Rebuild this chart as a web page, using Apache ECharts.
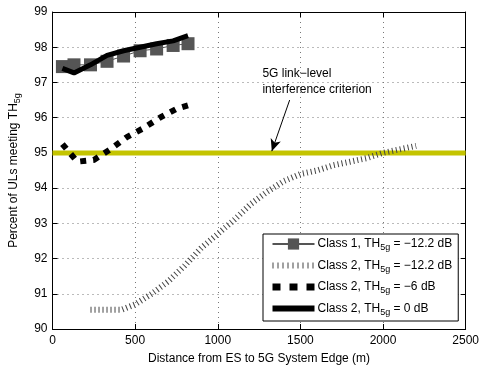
<!DOCTYPE html>
<html>
<head>
<meta charset="utf-8">
<script src="https://cdn.jsdelivr.net/npm/echarts@6/dist/echarts.min.js"></script>
<style>
  html, body { margin: 0; padding: 0; background: #fff; }
  #chart { width: 482px; height: 370px; }
</style>
</head>
<body>
<div id="chart"></div>
<script>
// Class 1, TH5g = -12.2 dB (gray squares)
const class1X = [60, 130, 230, 330, 430, 530, 630, 730, 820]
const class1Y = [97.45, 97.5, 97.5, 97.6, 97.75, 97.9, 97.95, 98.05, 98.1]
// Class 2, TH5g = 0 dB (thick solid black)
const c2zeroX = [60, 130, 230, 330, 430, 530, 630, 730, 820]
const c2zeroY = [97.4, 97.27, 97.5, 97.77, 97.9, 98.0, 98.1, 98.18, 98.33]
// Class 2, TH5g = -6 dB (thick dashed black)
const c2sixX = [60, 150, 250, 350, 450, 550, 650, 750, 820]
const c2sixY = [95.25, 94.75, 94.8, 95.1, 95.45, 95.7, 96.0, 96.25, 96.35]
// Class 2, TH5g = -12.2 dB (tick-dotted gray)
const c2twelveX = [230, 420, 500, 600, 700, 800, 900, 1000, 1100, 1200, 1300, 1400, 1500, 1600, 1700, 1800, 1900, 2000, 2100, 2200]
const c2twelveY = [90.55, 90.55, 90.7, 91.0, 91.35, 91.8, 92.3, 92.7, 93.1, 93.55, 93.9, 94.2, 94.4, 94.5, 94.65, 94.75, 94.85, 95.0, 95.1, 95.2]
// criterion
const criterionX = [0, 2500]
const criterionY = [95, 95]

const xTicks = [0, 500, 1000, 1500, 2000, 2500]
const yTicks = [90, 91, 92, 93, 94, 95, 96, 97, 98, 99]

const zip = (xs, ys) => xs.map((x, i) => [x, ys[i]])

const font = 'Liberation Sans, Arial, sans-serif'
const rich = {
  a: { fontFamily: font, fontSize: 12, color: '#000' },
  s: { fontFamily: font, fontSize: 9, color: '#000', padding: [8, 0, 0, 0] },
}

const chart = echarts.init(document.getElementById('chart'))

const axisCommon = {
  axisLine: { show: true, onZero: false, lineStyle: { color: '#000', width: 1 } },
  axisTick: { show: true, inside: true, length: 5, lineStyle: { color: '#000' } },
}

const option = {
  animation: false,
  grid: { left: 51, right: 15, top: 12, bottom: 41 },
  xAxis: [
    {
      type: 'value',
      min: xTicks[0],
      max: xTicks[xTicks.length - 1],
      interval: 500,
      position: 'bottom',
      ...axisCommon,
      axisLabel: { color: '#000', fontFamily: font, fontSize: 12, margin: 6, formatter: v => String(v) },
      splitLine: { show: true, lineStyle: { color: '#777', type: [1, 4], width: 1 } },
      name: 'Distance from ES to 5G System Edge (m)',
      nameLocation: 'middle',
      nameGap: 24,
      nameTextStyle: { color: '#000', fontFamily: font, fontSize: 12 },
    },
    {
      type: 'value',
      min: xTicks[0],
      max: xTicks[xTicks.length - 1],
      interval: 500,
      position: 'top',
      ...axisCommon,
      axisLabel: { show: false },
      splitLine: { show: false },
    },
  ],
  yAxis: [
    {
      type: 'value',
      min: yTicks[0],
      max: yTicks[yTicks.length - 1],
      interval: 1,
      position: 'left',
      ...axisCommon,
      axisLabel: { color: '#000', fontFamily: font, fontSize: 12, margin: 5 },
      splitLine: { show: true, lineStyle: { color: '#777', type: [1, 4], width: 1 } },
      name: '{a|Percent of ULs meeting TH}{s|5g}',
      nameLocation: 'middle',
      nameGap: 30,
      nameTextStyle: { rich: rich },
    },
    {
      type: 'value',
      min: yTicks[0],
      max: yTicks[yTicks.length - 1],
      interval: 1,
      position: 'right',
      ...axisCommon,
      axisLabel: { show: false },
      splitLine: { show: false },
    },
  ],
  legend: {
    orient: 'vertical',
    left: 263,
    top: 234,
    width: 200,
    itemWidth: 42,
    itemHeight: 14,
    itemGap: 7,
    padding: [4, 6, 4, 6],
    borderColor: '#000',
    borderWidth: 1,
    backgroundColor: '#fff',
    textStyle: { rich: rich, padding: [0, 0, 0, -2] },
    data: [
      { name: 'c1' },
      { name: 'c2a', itemStyle: { opacity: 0 }, lineStyle: { width: 6, type: [1, 4] } },
      { name: 'c2b', itemStyle: { opacity: 0 }, lineStyle: { width: 7, type: [8, 9] } },
      { name: 'c2c', itemStyle: { opacity: 0 }, lineStyle: { width: 6 } },
    ],
    formatter: name => ({
      c1: '{a|Class 1, TH}{s|5g}{a| = \u221212.2 dB}',
      c2a: '{a|Class 2, TH}{s|5g}{a| = \u221212.2 dB}',
      c2b: '{a|Class 2, TH}{s|5g}{a| = \u22126 dB}',
      c2c: '{a|Class 2, TH}{s|5g}{a| = 0 dB}',
    })[name],
  },
  series: [
    {
      name: 'criterion',
      type: 'line',
      data: zip(criterionX, criterionY),
      symbol: 'none',
      lineStyle: { color: '#c4c400', width: 5 },
      z: 1,
      markLine: {
        silent: true,
        symbol: ['none', 'arrow'],
        symbolSize: [8, 12],
        lineStyle: { color: '#000', width: 1, type: 'solid' },
        label: { show: false },
        data: [[{ coord: [1435, 96.5] }, { coord: [1327, 95.05] }]],
      },
      markPoint: {
        silent: true,
        symbol: 'circle',
        symbolSize: 0,
        label: {
          show: true,
          position: 'right',
          distance: 0,
          color: '#000',
          fontFamily: font,
          fontSize: 12,
          lineHeight: 16,
          formatter: '5G link\u2212level\ninterference criterion',
        },
        data: [{ coord: [1270, 97.02] }],
      },
    },
    {
      name: 'c2a',
      type: 'line',
      data: zip(c2twelveX, c2twelveY),
      symbol: 'none',
      itemStyle: { color: '#444' },
      lineStyle: { color: '#444', width: 6, type: [1, 3] },
      z: 2,
    },
    {
      name: 'c1',
      type: 'line',
      data: zip(class1X, class1Y),
      symbol: 'rect',
      symbolSize: 13,
      itemStyle: { color: '#555' },
      lineStyle: { color: '#555', width: 1 },
      z: 3,
    },
    {
      name: 'c2b',
      type: 'line',
      data: zip(c2sixX, c2sixY),
      symbol: 'none',
      itemStyle: { color: '#000' },
      lineStyle: { color: '#000', width: 6, type: [6, 7] },
      z: 4,
    },
    {
      name: 'c2c',
      type: 'line',
      data: zip(c2zeroX, c2zeroY),
      symbol: 'none',
      itemStyle: { color: '#000' },
      lineStyle: { color: '#000', width: 5 },
      z: 5,
    },
  ],
}

option && chart.setOption(option)
</script>
</body>
</html>
